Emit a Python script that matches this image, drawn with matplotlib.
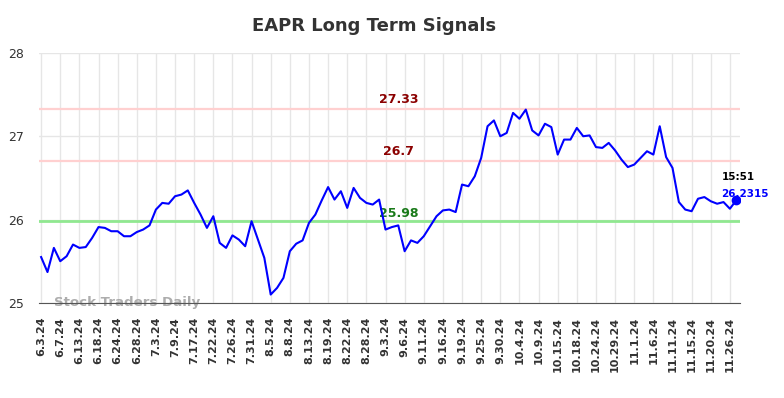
import matplotlib.pyplot as plt

title = "EAPR Long Term Signals"

prices = [
    25.55, 25.37, 25.66, 25.50, 25.56, 25.70, 25.66, 25.67, 25.78, 25.91,
    25.90, 25.86, 25.86, 25.80, 25.80, 25.85, 25.88, 25.93, 26.12, 26.20,
    26.19, 26.28, 26.30, 26.35, 26.20, 26.06, 25.90, 26.04, 25.72, 25.66,
    25.81, 25.76, 25.68, 25.98, 25.76, 25.54, 25.10, 25.18, 25.30, 25.62,
    25.71, 25.75, 25.96, 26.06, 26.23, 26.39, 26.24, 26.34, 26.14, 26.38,
    26.26, 26.20, 26.18, 26.24, 25.88, 25.91, 25.93, 25.62, 25.75, 25.72,
    25.80, 25.92, 26.04, 26.11, 26.12, 26.09, 26.42, 26.40, 26.52, 26.74,
    27.12, 27.19, 27.00, 27.04, 27.28, 27.21, 27.32, 27.07, 27.01, 27.15,
    27.11, 26.78, 26.96, 26.96, 27.10, 27.00, 27.01, 26.87, 26.86, 26.92,
    26.83, 26.72, 26.63, 26.66, 26.74, 26.82, 26.78, 27.12, 26.75, 26.62,
    26.21, 26.12, 26.10, 26.25, 26.27, 26.22, 26.19, 26.21, 26.13, 26.2315,
]

tick_labels = [
    "6.3.24", "6.7.24", "6.13.24", "6.18.24", "6.24.24", "6.28.24", "7.3.24",
    "7.9.24", "7.17.24", "7.22.24", "7.26.24", "7.31.24", "8.5.24", "8.8.24",
    "8.13.24", "8.19.24", "8.22.24", "8.28.24", "9.3.24", "9.6.24", "9.11.24",
    "9.16.24", "9.19.24", "9.25.24", "9.30.24", "10.4.24", "10.9.24",
    "10.15.24", "10.18.24", "10.24.24", "10.29.24", "11.1.24", "11.6.24",
    "11.11.24", "11.15.24", "11.20.24", "11.26.24",
]

resistance = [27.33, 26.7]
support = [25.98]
last_time = "15:51"

x = list(range(len(prices)))

fig = plt.figure(figsize=(7.84, 3.98), dpi=100)
ax = fig.add_axes([0.05, 0.239, 0.894, 0.628])

# signal lines
for lvl in resistance:
    ax.axhline(lvl, color="#ffd0d0", lw=1.6, zorder=1)
    ax.text(56, lvl + 0.035, f"{lvl:g}", color="#8b0000", fontsize=9,
            fontweight="bold", ha="center", va="bottom")
for lvl in support:
    ax.axhline(lvl, color="#90e890", lw=2, zorder=1)
    ax.text(56, lvl + 0.02, f"{lvl:g}", color="#1a7a1a", fontsize=9,
            fontweight="bold", ha="center", va="bottom")

ax.plot(x, prices, color="#0000ff", lw=1.5, zorder=3)
ax.plot(x[-1], prices[-1], "o", color="#0000ff", ms=6, zorder=4)
ax.text(x[-1] - 2.3, prices[-1] + 0.245, last_time, fontsize=7.5,
        fontweight="bold", color="black", ha="left", va="baseline")
ax.text(x[-1] - 2.3, prices[-1] + 0.045, f"{prices[-1]:g}", fontsize=7.5,
        fontweight="bold", color="#0000ff", ha="left", va="baseline")

ax.text(2.0, 25.0, "Stock Traders Daily", fontsize=9.6, fontweight="bold",
        color="#999999", alpha=0.8, ha="left", va="center", zorder=2)

ax.set_xlim(-0.3, 109.6)
ax.set_ylim(25, 28)
ax.set_yticks([25, 26, 27, 28])
ax.set_xticks(x[::3])
ax.set_xticklabels(tick_labels, rotation=90, fontsize=8, fontweight="bold")
ax.tick_params(axis="both", length=0, colors="#333333")
ax.tick_params(axis="x", pad=10)
ax.tick_params(axis="y", labelsize=9, pad=11)
ax.grid(True, color="#e6e6e6", lw=1)
ax.set_axisbelow(True)
for s in ["top", "right", "left"]:
    ax.spines[s].set_visible(False)
ax.spines["bottom"].set_color("#555555")

fig.suptitle(title, x=0.477, fontsize=13, fontweight="bold", color="#333333",
             y=0.958)

fig.savefig("out.png", dpi=100)
